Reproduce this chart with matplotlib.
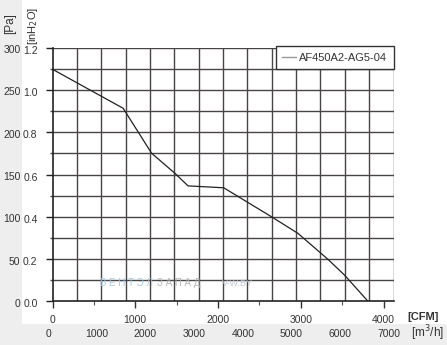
import matplotlib
matplotlib.use("Agg")
import matplotlib.pyplot as plt
from matplotlib.lines import Line2D
from matplotlib.patches import Rectangle
import matplotlib.transforms as mtransforms

plt.rcParams['font.family'] = ['Liberation Sans', 'DejaVu Sans']

# ---- data ----
flow_cfm = [0, 854, 1197, 1478, 1638, 2069, 2644, 2965, 3327, 3528, 3809]
pressure_inh2o = [1.099, 0.914, 0.701, 0.606, 0.546, 0.537, 0.400, 0.321, 0.198, 0.123, 0.0]
series_name = "AF450A2-AG5-04"

cfm_ticks = [0, 1000, 2000, 3000, 4000]
m3h_ticks = [0, 1000, 2000, 3000, 4000, 5000, 6000, 7000]
inh2o_ticks = [0.0, 0.2, 0.4, 0.6, 0.8, 1.0, 1.2]
pa_ticks = [0, 50, 100, 150, 200, 250, 300]

M3H_PER_CFM = 1.699
PA_PER_INH2O = 249.09

W, H = 447, 345
fig = plt.figure(figsize=(W / 100, H / 100), dpi=100)
fig.patch.set_facecolor('#eeeeee')
fig.add_artist(Rectangle((22 / W, 21 / H), 1 - 22 / W, 1 - 21 / H,
                         transform=fig.transFigure, facecolor='white',
                         edgecolor='none', zorder=0))

ax = fig.add_axes([52.5 / W, (H - 301) / H, (393.5 - 52.5) / W, (301 - 48) / H])
ax.set_facecolor('white')
xmax = 7000 / M3H_PER_CFM
ax.set_xlim(0, xmax)
ax.set_ylim(0, 1.2)

grid_c = '#4a4545'
# vertical grid every 500 m3/h
for v in range(500, 7001, 500):
    ax.axvline(v / M3H_PER_CFM, color=grid_c, lw=1.0, zorder=1)
# horizontal grid every 0.1 inH2O
for i in range(1, 13):
    ax.axhline(i * 0.1, color=grid_c, lw=1.0, zorder=1)

ax.plot(flow_cfm, pressure_inh2o, color='#222222', lw=0.9, zorder=3)

for s in ['top', 'right']:
    ax.spines[s].set_visible(False)
for s in ['left', 'bottom']:
    ax.spines[s].set_color('#222222')
    ax.spines[s].set_linewidth(1.2)

txt_c = '#333333'
fs = 7.5
ax.set_xticks(cfm_ticks)
ax.set_xticks([500, 1500, 2500, 3500], minor=True)
ax.set_xticklabels([str(t) for t in cfm_ticks], fontsize=fs, color=txt_c)
ax.tick_params(axis='x', which='major', length=5, width=1.0, color='#333333', pad=5)
ax.tick_params(axis='x', which='minor', length=3, width=0.8, color='#555555')

ax.set_yticks(inh2o_ticks)
ax.set_yticks([0.1, 0.3, 0.5, 0.7, 0.9, 1.1], minor=True)
ax.set_yticklabels([])
ax.tick_params(axis='y', which='major', length=5, width=1.0, color='#222222')
ax.tick_params(axis='y', which='minor', length=2.5, width=1.0, color=grid_c)

# left labels (inH2O and Pa)
ytrans = mtransforms.blended_transform_factory(fig.transFigure, ax.transData)
ytrans_off = ytrans + mtransforms.ScaledTranslation(0, -3 / 100, fig.dpi_scale_trans)
for t in inh2o_ticks:
    ax.text(37.5 / W, t, f"{t:.1f}", transform=ytrans_off, ha='right', va='center',
            fontsize=fs, color=txt_c)
for p in pa_ticks:
    ax.text(20.5 / W, p / PA_PER_INH2O, str(p), transform=ytrans_off, ha='right',
            va='center', fontsize=fs, color=txt_c)

# bottom m3/h labels
xtrans = mtransforms.blended_transform_factory(ax.transData, fig.transFigure)
xtrans_off = xtrans + mtransforms.ScaledTranslation(-4.5 / 100, 0, fig.dpi_scale_trans)
for m in m3h_ticks:
    ax.text(m / M3H_PER_CFM, (H - 334) / H, str(m), transform=xtrans_off,
            ha='center', va='center', fontsize=fs, color=txt_c)

# axis unit labels
fig.text(10 / W, 1 - 24 / H, "[Pa]", rotation=90, ha='center', va='center',
         fontsize=8.5, color=txt_c)
fig.text(32.5 / W, 1 - 26 / H, "[inH$_2$O]", rotation=90, ha='center', va='center',
         fontsize=8, color=txt_c)
fig.text(423 / W, 1 - 317 / H, "[CFM]", ha='center', va='center', fontsize=8,
         fontweight='bold', color=txt_c)
fig.text(444 / W, 1 - 333 / H, "[m$^3$/h]", ha='right', va='center', fontsize=8.5,
         color=txt_c)

# watermark
fig.text(100 / W, 1 - 283 / H, "В Е Н Т Э Л", ha='left', va='center', fontsize=7,
         color='#9cc8e6', alpha=0.9)
fig.text(157 / W, 1 - 283 / H, "З А П А Д", ha='left', va='center', fontsize=7,
         color='#b0b0b0', alpha=0.9)
fig.text(222 / W, 1 - 283 / H, "V-W.BY", ha='left', va='center', fontsize=6.5,
         color='#b8c4d0', alpha=0.9)

# legend
handle = Line2D([], [], color='#999999', lw=1.0)
leg = ax.legend([handle], [series_name], loc='upper right', bbox_to_anchor=(1.0, 1.006),
                frameon=True, fancybox=False, borderaxespad=0, fontsize=8,
                handlelength=1.3, handletextpad=0.3, borderpad=0.55)
leg.get_frame().set_edgecolor('#333333')
leg.get_frame().set_linewidth(1.0)
leg.get_frame().set_facecolor('white')
leg.get_frame().set_alpha(1.0)
for t in leg.get_texts():
    t.set_color(txt_c)

fig.savefig('out.png', dpi=100)
